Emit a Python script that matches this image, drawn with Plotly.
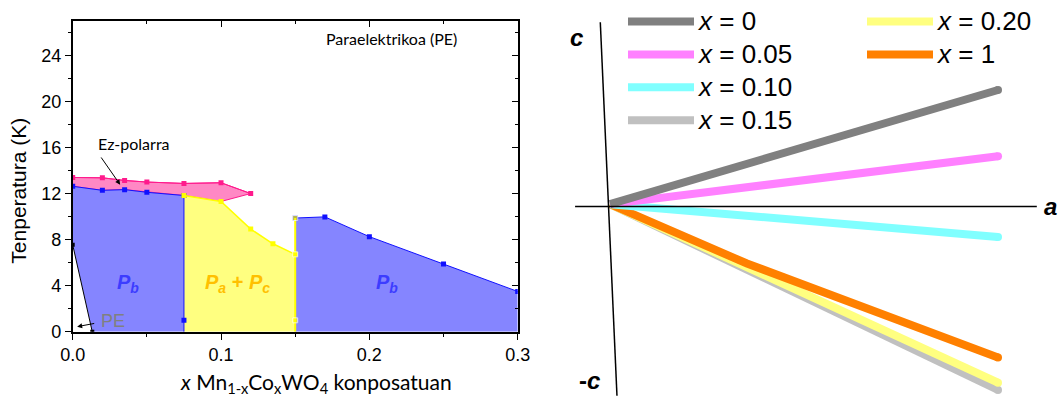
import plotly.graph_objects as go

W, H = 1058, 396

# ---------------- Left panel data (phase diagram) ----------------
pink_x = [0.0, 0.02, 0.035, 0.05, 0.075, 0.10, 0.12]
pink_T = [13.43, 13.40, 13.17, 13.03, 12.91, 12.97, 12.03]

blue_x = [0.0, 0.02, 0.035, 0.05, 0.075]
blue_T = [12.66, 12.31, 12.37, 12.14, 11.86]

yellow_x = [0.075, 0.10, 0.12, 0.135, 0.15]
yellow_T = [11.86, 11.34, 8.94, 7.66, 6.74]

blue2_x = [0.15, 0.17, 0.20, 0.25, 0.30]
blue2_T = [9.90, 10.00, 8.28, 5.89, 3.51]

pe_x = [0.0, 0.0132]
pe_T = [7.57, 0.0]

low_T = 1.0  # lowest measured temperature markers

# ---------------- Right panel data (schematic) ----------------
series_names = ["x = 0", "x = 0.05", "x = 0.10", "x = 0.15", "x = 0.20", "x = 1"]
series_colors = ["#808080", "#ff80ff", "#80ffff", "#c0c0c0", "#ffff80", "#ff8000"]
series_a = [[0, 1.0], [0, 1.0], [0, 1.0], [0, 1.0], [0, 1.0], [0, 0.353, 1.0]]
series_c = [[0, 0.298], [0, 0.125], [0, -0.086], [0, -0.485], [0, -0.466], [0, -0.155, -0.40]]
draw_order = [3, 4, 5, 2, 1, 0]

xticks = [0.0, 0.1, 0.2, 0.3]
yticks = [0, 4, 8, 12, 16, 20, 24]

BLUE_LINE = "#1010ff"
BLUE_FILL = "#8585ff"
PINK_LINE = "#ff1a8c"
PINK_FILL = "#ff88c4"
YEL_LINE = "#ffff00"
YEL_FILL = "#ffff80"

fig = go.Figure()

# Pink (Ez-polarra) region
fig.add_trace(go.Scatter(
    x=pink_x + [yellow_x[1], yellow_x[0]] + blue_x[::-1][1:],
    y=pink_T + [yellow_T[1], yellow_T[0]] + blue_T[::-1][1:],
    fill="toself", fillcolor=PINK_FILL, mode="lines",
    line=dict(color=PINK_LINE, width=1), showlegend=False, hoverinfo="skip"))
fig.add_trace(go.Scatter(x=pink_x, y=pink_T, mode="lines+markers",
    line=dict(color=PINK_LINE, width=1),
    marker=dict(symbol="square", size=5, color=PINK_LINE), showlegend=False))

# Blue left region
fig.add_trace(go.Scatter(
    x=[pe_x[1], pe_x[0]] + blue_x + [blue_x[-1]],
    y=[pe_T[1], pe_T[0]] + blue_T + [0],
    fill="toself", fillcolor=BLUE_FILL, mode="lines",
    line=dict(color="rgba(0,0,0,0)", width=0), showlegend=False, hoverinfo="skip"))

# Yellow region
fig.add_trace(go.Scatter(
    x=[yellow_x[0]] + yellow_x + [yellow_x[-1]],
    y=[0] + yellow_T + [0],
    fill="toself", fillcolor=YEL_FILL, mode="lines",
    line=dict(color="rgba(0,0,0,0)", width=0), showlegend=False, hoverinfo="skip"))

# Blue right region
fig.add_trace(go.Scatter(
    x=[blue2_x[0]] + blue2_x + [blue2_x[-1]],
    y=[0] + blue2_T + [0],
    fill="toself", fillcolor=BLUE_FILL, mode="lines",
    line=dict(color="rgba(0,0,0,0)", width=0), showlegend=False, hoverinfo="skip"))

# Boundary lines
fig.add_trace(go.Scatter(x=blue_x, y=blue_T, mode="lines+markers",
    line=dict(color=BLUE_LINE, width=1),
    marker=dict(symbol="square", size=5, color=BLUE_LINE), showlegend=False))
fig.add_trace(go.Scatter(x=[blue_x[-1], blue_x[-1]], y=[blue_T[-1], 0], mode="lines",
    line=dict(color=BLUE_LINE, width=1), showlegend=False))
fig.add_trace(go.Scatter(x=[blue_x[-1]], y=[low_T], mode="markers",
    marker=dict(symbol="square", size=5, color=BLUE_LINE), showlegend=False))
fig.add_trace(go.Scatter(x=blue2_x, y=blue2_T, mode="lines+markers",
    line=dict(color=BLUE_LINE, width=1),
    marker=dict(symbol="square", size=5, color=BLUE_LINE), showlegend=False))

fig.add_trace(go.Scatter(x=yellow_x, y=yellow_T, mode="lines+markers",
    line=dict(color=YEL_LINE, width=1.5),
    marker=dict(symbol="square", size=5, color=YEL_LINE), showlegend=False))
fig.add_trace(go.Scatter(x=[yellow_x[-1]] * 4, y=[0, low_T, yellow_T[-1], blue2_T[0]],
    mode="lines+markers", line=dict(color=YEL_LINE, width=2),
    marker=dict(symbol="square", size=[0, 5, 5, 5], color=YEL_LINE), showlegend=False))

fig.add_trace(go.Scatter(x=pe_x, y=pe_T, mode="lines+markers",
    line=dict(color="black", width=1),
    marker=dict(symbol="square", size=4, color="black"), showlegend=False))

# ---------------- Right panel traces ----------------
for i in draw_order:
    col1 = i < 4
    fig.add_trace(go.Scatter(
        x=series_a[i], y=series_c[i], mode="lines",
        line=dict(color=series_colors[i], width=8),
        name='<span style="font-size:26px"><i>x</i>' + series_names[i][1:] + "</span>",
        legend="legend" if col1 else "legend2",
        legendrank=i + 1,
        xaxis="x2", yaxis="y2", hoverinfo="skip"))
    fig.add_trace(go.Scatter(
        x=[series_a[i][-1]], y=[series_c[i][-1]], mode="markers",
        marker=dict(color=series_colors[i], size=8, line=dict(width=0)),
        showlegend=False, xaxis="x2", yaxis="y2", hoverinfo="skip"))

# invisible trace to activate mirror axes
fig.add_trace(go.Scatter(x=[0], y=[0], xaxis="x3", yaxis="y3", mode="markers",
    marker=dict(opacity=0), showlegend=False, hoverinfo="skip"))

# ---------------- Layout ----------------
xl0, xl1 = 72.7 / W, 517.7 / W
yb0, yb1 = 1 - 331 / H, 1 - 16.7 / H
TICKFONT = dict(family="Liberation Sans, Arial", size=18, color="black")
LEGFONT = dict(family="Liberation Sans, Arial", size=23, color="black")

fig.update_layout(
    width=W, height=H, autosize=False,
    margin=dict(l=0, r=0, t=0, b=0),
    paper_bgcolor="white", plot_bgcolor="rgba(0,0,0,0)",
    xaxis=dict(domain=[xl0, xl1], range=[0, 0.3], tickvals=xticks,
               ticktext=[f"{v:.1f}" for v in xticks], automargin=False,
               ticks="outside", ticklen=6, tickwidth=1.2, tickcolor="black",
               minor=dict(dtick=0.05, ticks="outside", ticklen=3, tickcolor="black"),
               showline=True, linecolor="black", linewidth=1.5, showgrid=False,
               zeroline=False, tickfont=TICKFONT, anchor="y"),
    yaxis=dict(domain=[yb0, yb1], range=[0, 27], tickvals=yticks, automargin=False,
               ticks="outside", ticklen=6, tickwidth=1.2, tickcolor="black",
               minor=dict(dtick=2, ticks="outside", ticklen=3, tickcolor="black"),
               showline=True, linecolor="black", linewidth=1.5, showgrid=False,
               zeroline=False, tickfont=TICKFONT, anchor="x"),
    xaxis3=dict(overlaying="x", side="top", range=[0, 0.3], tickvals=xticks, automargin=False,
                ticks="inside", ticklen=6, tickcolor="black", showticklabels=False,
                minor=dict(dtick=0.05, ticks="inside", ticklen=3, tickcolor="black"),
                showline=True, linecolor="black", linewidth=1.5, showgrid=False,
                zeroline=False, anchor="y3"),
    yaxis3=dict(overlaying="y", side="right", range=[0, 27], tickvals=yticks, automargin=False,
                ticks="inside", ticklen=6, tickcolor="black", showticklabels=False,
                minor=dict(dtick=2, ticks="inside", ticklen=3, tickcolor="black"),
                showline=True, linecolor="black", linewidth=1.5, showgrid=False,
                zeroline=False, anchor="x3"),
    xaxis2=dict(domain=[540 / W, 1.0], range=[-0.1804, 1.1546], visible=False,
                anchor="y2", automargin=False),
    yaxis2=dict(domain=[0, 1], range=[-0.5008, 0.5198], visible=False,
                anchor="x2", automargin=False),
    legend=dict(x=623 / W, y=1.0 + 5 / H, xanchor="left", yanchor="top",
                bgcolor="rgba(0,0,0,0)", itemwidth=66, tracegroupgap=0, font=LEGFONT),
    legend2=dict(x=862 / W, y=1.0 + 5 / H, xanchor="left", yanchor="top",
                 bgcolor="rgba(0,0,0,0)", itemwidth=66, tracegroupgap=0, font=LEGFONT),
)

# Axis lines of the schematic
a_axis = dict(a=[-0.09, 1.10], c=[-0.006, -0.006])
c_axis = dict(a=[-0.025, 0.018], c=[0.475, -0.50])
fig.add_shape(type="line", xref="x2", yref="y2", x0=a_axis["a"][0], y0=a_axis["c"][0],
              x1=a_axis["a"][1], y1=a_axis["c"][1], line=dict(color="black", width=1.5))
fig.add_shape(type="line", xref="x2", yref="y2", x0=c_axis["a"][0], y0=c_axis["c"][0],
              x1=c_axis["a"][1], y1=c_axis["c"][1], line=dict(color="black", width=1.5))

AXF = dict(family="Liberation Sans, Arial", size=24, color="black")
anns = [
    # axis titles (left panel)
    dict(x=316 / W, y=1 - 383 / H, xref="paper", yref="paper",
         xanchor="center", yanchor="middle",
         text="<i>x</i> Mn<sub>1-x</sub>Co<sub>x</sub>WO<sub>4</sub> konposatuan",
         font=dict(family="Lato", size=21, color="black"), showarrow=False),
    dict(x=19 / W, y=1 - 188 / H, xref="paper", yref="paper",
         xanchor="center", yanchor="middle", text="Tenperatura (K)",
         textangle=-90, font=dict(family="Liberation Sans, Arial", size=21, color="black"),
         showarrow=False),
    # schematic axis labels
    dict(x=1.135, y=-0.006, xref="x2", yref="y2", text="<b><i>a</i></b>", font=AXF,
         showarrow=False),
    dict(x=-0.087, y=0.435, xref="x2", yref="y2", text="<b><i>c</i></b>", font=AXF,
         showarrow=False),
    dict(x=-0.052, y=-0.46, xref="x2", yref="y2", text="<b>-<i>c</i></b>", font=AXF,
         showarrow=False),
    # left panel texts
    dict(x=0.2146, y=25.5, xref="x", yref="y", text="Paraelektrikoa (PE)",
         font=dict(family="Lato", size=16, color="black"), showarrow=False),
    dict(x=0.032, y=12.8, ax=0.0185, ay=15.3, xref="x", yref="y", axref="x", ayref="y",
         text="", showarrow=True, arrowhead=2, arrowsize=1, arrowwidth=1, arrowcolor="black"),
    dict(x=0.041, y=16.4, xref="x", yref="y", text="Ez-polarra",
         font=dict(family="Lato", size=16, color="black"), showarrow=False),
    dict(x=0.003, y=0.45, ax=0.0155, ay=0.75, xref="x", yref="y", axref="x", ayref="y",
         text="", showarrow=True, arrowhead=2, arrowsize=1, arrowwidth=1, arrowcolor="black"),
    dict(x=0.0275, y=0.94, xref="x", yref="y", text="PE",
         font=dict(family="Liberation Sans, Arial", size=18, color="#808080"), showarrow=False),
    dict(x=0.037, y=4.2, xref="x", yref="y",
         text="<b><i>P</i></b><sub><b><i>b</i></b></sub>",
         font=dict(family="Liberation Sans, Arial", size=20, color="#3c3cff"), showarrow=False),
    dict(x=0.2117, y=4.2, xref="x", yref="y",
         text="<b><i>P</i></b><sub><b><i>b</i></b></sub>",
         font=dict(family="Liberation Sans, Arial", size=20, color="#3c3cff"), showarrow=False),
    dict(x=0.111, y=4.2, xref="x", yref="y",
         text="<b><i>P</i></b><sub><b><i>a</i></b></sub><b> + <i>P</i></b><sub><b><i>c</i></b></sub>",
         font=dict(family="Liberation Sans, Arial", size=20, color="#ffc000"), showarrow=False),
]
fig.update_layout(annotations=anns)

fig.write_html("out.html")
